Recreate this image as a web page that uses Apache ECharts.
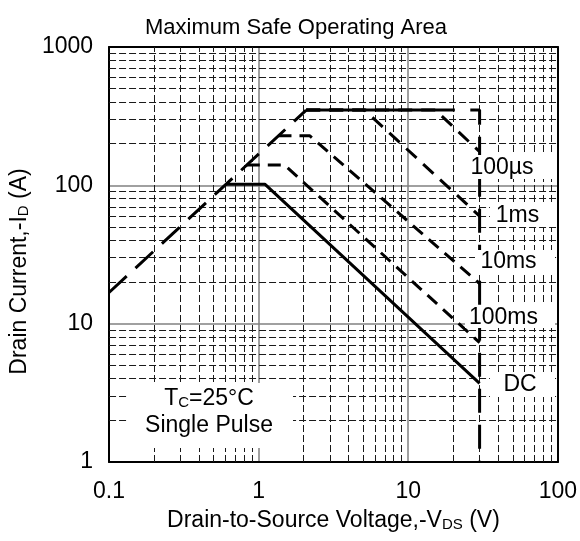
<!DOCTYPE html>
<html>
<head>
<meta charset="utf-8">
<script src="https://cdn.jsdelivr.net/npm/echarts@6/dist/echarts.min.js"></script>
<style>
html,body{margin:0;padding:0;background:#fff;}
#c{width:580px;height:541px;}
</style>
</head>
<body>
<div id="c"></div>
<script>
// ---- data ----
const xTickLabels = ['0.1', '1', '10', '100'];
const yTickLabels = ['1', '10', '100', '1000'];
const xMinor = [0.2,0.3,0.4,0.5,0.6,0.7,0.8,0.9,2,3,4,5,6,7,8,9,20,30,40,50,60,70,80,90];
const yMinor = [2,3,4,5,6,7,8,9,20,30,40,50,60,70,80,90,200,300,400,500,600,700,800,900];

// RDS(on) limit
const rdsV = [0.1, 2.08];
const rdsI = [16.8, 350];
// peak current limit (solid top line)
const peakV = [2.08, 20.5];
const peakI = [350, 350];
// VDS limit (vertical dashed)
const bvV = [26, 30, 30];
const bvI = [350, 350, 1];
// pulse curves
const us100V = [2.08, 15.2, 30];
const us100I = [350, 350, 175];
const ms1V = [2.08, 5.1, 30];
const ms1I = [350, 350, 60];
const ms10V = [1.357, 2.2, 30];
const ms10I = [228, 228, 19.5];
const ms100V = [0.833, 1.49, 30];
const ms100I = [140, 140, 7.3];
const dcV = [0.607, 1.1, 30];
const dcI = [102, 102, 3.7];

const curveLabels = ['100µs', '1ms', '10ms', '100ms', 'DC'];

function pairs(xs, ys) { return xs.map((x, i) => [x, ys[i]]); }

const FONT = "'Liberation Sans', Arial, sans-serif";
const chart = echarts.init(document.getElementById('c'), null, {renderer: 'canvas'});

function lineSeries(name, xs, ys, type, width) {
  return {
    name: name, type: 'line', data: pairs(xs, ys), symbol: 'none', z: 5,
    lineStyle: {color: '#000', width: width, type: type, cap: 'butt'},
    silent: true, animation: false
  };
}

const option = {
  animation: false,
  backgroundColor: '#fff',
  title: {
    text: 'Maximum Safe Operating Area',
    left: 140, top: 12,
    textStyle: {fontFamily: FONT, fontSize: 22, fontWeight: 'normal', color: '#000'}
  },
  grid: {left: 98, top: 47, width: 460, height: 415, containLabel: false},
  xAxis: [{
    type: 'log', logBase: 10, min: 0.1, max: 100,
    name: '{n|Drain-to-Source Voltage,-V}{s|DS}{n| (V)}',
    nameLocation: 'middle', nameGap: 47,
    nameTextStyle: {
      rich: {
        n: {fontFamily: FONT, fontSize: 23, color: '#000'},
        s: {fontFamily: FONT, fontSize: 15, color: '#000', verticalAlign: 'bottom'}
      }
    },
    axisLine: {show: true, onZero: false, lineStyle: {color: '#000', width: 2}},
    axisTick: {show: false},
    axisLabel: {
      margin: 18, fontFamily: FONT, fontSize: 23, color: '#000',
      formatter: function (v) {
        const k = Math.round(Math.log10(v)) + 1;
        return xTickLabels[k] !== undefined ? xTickLabels[k] : '';
      }
    },
    splitLine: {show: true, lineStyle: {color: '#808080', width: 1.5}}
  }, {
    type: 'log', logBase: 10, min: 0.1, max: 100, position: 'top',
    axisLine: {show: true, onZero: false, lineStyle: {color: '#000', width: 2}},
    axisTick: {show: false}, axisLabel: {show: false}, splitLine: {show: false}
  }],
  yAxis: [{
    type: 'log', logBase: 10, min: 1, max: 1000,
    name: '{n|Drain Current,-I}{s|D}{n| (A)}',
    nameLocation: 'middle', nameGap: 60, nameRotate: 90,
    nameTextStyle: {
      padding: [0, 34, 0, 0],
      rich: {
        n: {fontFamily: FONT, fontSize: 23, color: '#000'},
        s: {fontFamily: FONT, fontSize: 15, color: '#000', verticalAlign: 'bottom'}
      }
    },
    axisLine: {show: true, onZero: false, lineStyle: {color: '#000', width: 2}},
    axisTick: {show: false},
    axisLabel: {
      margin: 16, fontFamily: FONT, fontSize: 23, color: '#000',
      formatter: function (v) {
        const k = Math.round(Math.log10(v));
        return yTickLabels[k] !== undefined ? yTickLabels[k] : '';
      }
    },
    splitLine: {show: true, lineStyle: {color: '#808080', width: 1.5}}
  }, {
    type: 'log', logBase: 10, min: 1, max: 1000, position: 'right',
    axisLine: {show: true, onZero: false, lineStyle: {color: '#000', width: 2}},
    axisTick: {show: false}, axisLabel: {show: false}, splitLine: {show: false}
  }],
  series: [
    {
      type: 'line', data: [], silent: true, z: 1,
      markLine: {
        silent: true, symbol: ['none', 'none'], animation: false,
        label: {show: false},
        lineStyle: {color: '#1a1a1a', width: 1, type: [7, 3]},
        emphasis: {disabled: true},
        data: xMinor.map(v => ({xAxis: v})).concat(yMinor.map(v => ({yAxis: v})))
      }
    },
    lineSeries('RDS(on) limit', rdsV, rdsI, [24, 12], 3),
    lineSeries('peak', peakV, peakI, 'solid', 3),
    lineSeries('VDS limit', bvV, bvI, [24, 12], 3),
    lineSeries(curveLabels[0], us100V, us100I, [14, 9], 3),
    lineSeries(curveLabels[1], ms1V, ms1I, [14, 9], 3),
    lineSeries(curveLabels[2], ms10V, ms10I, [13, 8], 3),
    lineSeries(curveLabels[3], ms100V, ms100I, [13, 8], 3),
    lineSeries(curveLabels[4], dcV, dcI, 'solid', 3)
  ],
  graphic: [
    // white label boxes
    {type: 'rect', z: 100, shape: {x: 468, y: 155, width: 89, height: 24}, style: {fill: '#fff'}},
    {type: 'rect', z: 100, shape: {x: 490, y: 205, width: 67, height: 22}, style: {fill: '#fff'}},
    {type: 'rect', z: 100, shape: {x: 475, y: 250, width: 80, height: 25}, style: {fill: '#fff'}},
    {type: 'rect', z: 100, shape: {x: 465, y: 305, width: 90, height: 23}, style: {fill: '#fff'}},
    {type: 'rect', z: 100, shape: {x: 490, y: 373, width: 65, height: 24}, style: {fill: '#fff'}},
    {type: 'rect', z: 100, shape: {x: 127, y: 383, width: 166, height: 65}, style: {fill: '#fff'}},
    // labels
    {type: 'text', z: 101, x: 502, y: 168, style: {text: curveLabels[0], font: '23px ' + FONT, fill: '#000', align: 'center', verticalAlign: 'middle'}},
    {type: 'text', z: 101, x: 517.5, y: 216, style: {text: curveLabels[1], font: '23px ' + FONT, fill: '#000', align: 'center', verticalAlign: 'middle'}},
    {type: 'text', z: 101, x: 508.5, y: 262, style: {text: curveLabels[2], font: '23px ' + FONT, fill: '#000', align: 'center', verticalAlign: 'middle'}},
    {type: 'text', z: 101, x: 503.5, y: 318, style: {text: curveLabels[3], font: '23px ' + FONT, fill: '#000', align: 'center', verticalAlign: 'middle'}},
    {type: 'text', z: 101, x: 520, y: 385, style: {text: curveLabels[4], font: '23px ' + FONT, fill: '#000', align: 'center', verticalAlign: 'middle'}},
    {type: 'text', z: 101, x: 209, y: 399, style: {
      text: '{n|T}{s|C}{n|=25°C}', align: 'center', verticalAlign: 'middle',
      rich: {
        n: {fontFamily: FONT, fontSize: 23, fill: '#000'},
        s: {fontFamily: FONT, fontSize: 15, fill: '#000', verticalAlign: 'bottom'}
      }
    }},
    {type: 'text', z: 101, x: 209, y: 426, style: {text: 'Single Pulse', font: '23px ' + FONT, fill: '#000', align: 'center', verticalAlign: 'middle'}}
  ]
};
chart.setOption(option);
</script>
</body>
</html>
